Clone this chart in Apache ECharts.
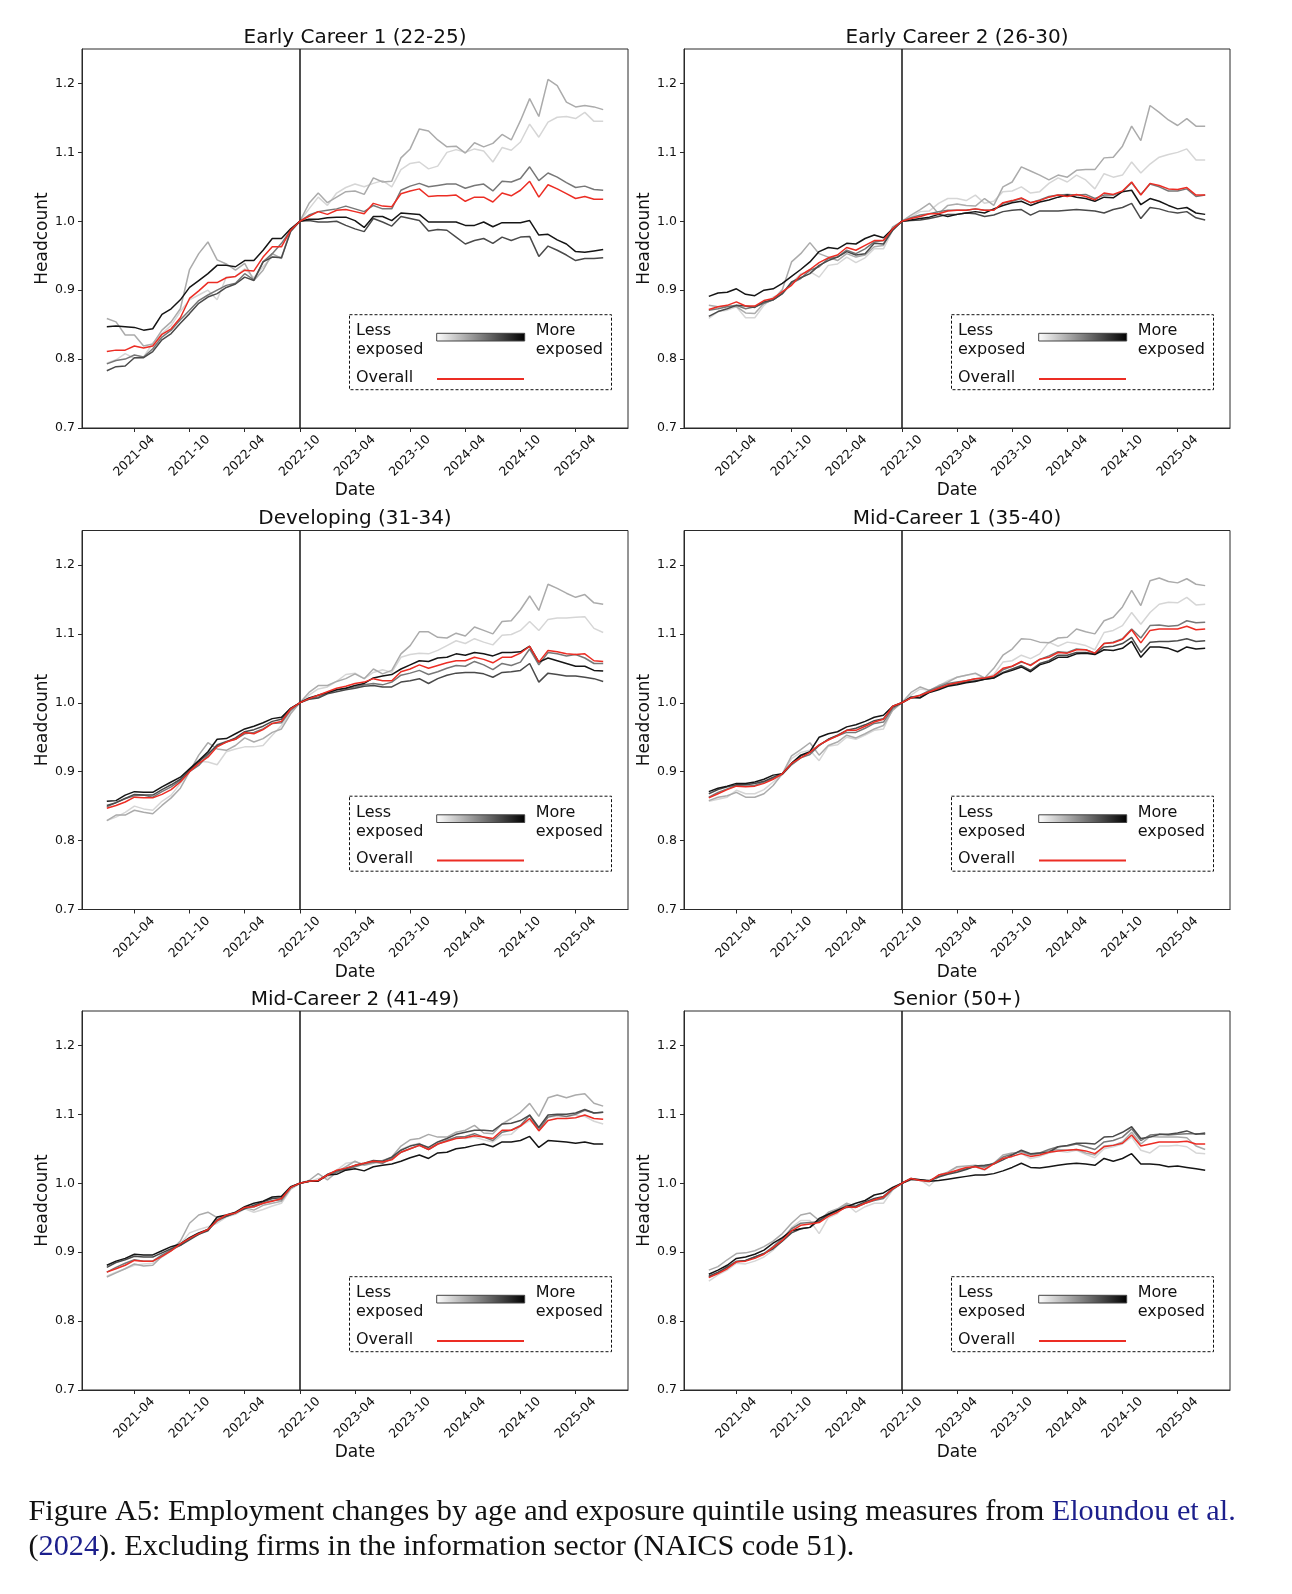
<!DOCTYPE html>
<html><head><meta charset="utf-8">
<script src="https://cdn.jsdelivr.net/npm/echarts@6/dist/echarts.min.js"></script>
<style>html,body{margin:0;padding:0;background:#fff}#c{width:1292px;height:1594px}</style>
</head><body><div id="c"></div>
<script>
// ---------------- DATA ----------------
const months = ['2021-01','2021-02','2021-03','2021-04','2021-05','2021-06','2021-07','2021-08','2021-09','2021-10','2021-11','2021-12',
'2022-01','2022-02','2022-03','2022-04','2022-05','2022-06','2022-07','2022-08','2022-09','2022-10','2022-11','2022-12',
'2023-01','2023-02','2023-03','2023-04','2023-05','2023-06','2023-07','2023-08','2023-09','2023-10','2023-11','2023-12',
'2024-01','2024-02','2024-03','2024-04','2024-05','2024-06','2024-07','2024-08','2024-09','2024-10','2024-11','2024-12',
'2025-01','2025-02','2025-03','2025-04','2025-05','2025-06','2025-07'];
const tickMonths = ['2021-04','2021-10','2022-04','2022-10','2023-04','2023-10','2024-04','2024-10','2025-04'];
const yTicks = [0.7, 0.8, 0.9, 1.0, 1.1, 1.2];
const eventMonth = '2022-10';
const panelTitles = ['Early Career 1 (22-25)','Early Career 2 (26-30)','Developing (31-34)','Mid-Career 1 (35-40)','Mid-Career 2 (41-49)','Senior (50+)'];

// Early Career 1 (22-25)
const p1_q1 = [.794,.799,.808,.801,.803,.823,.837,.849,.869,.886,.893,.900,.886,.919,.920,.931,.918,.934,.949,.948,.985,1.000,1.018,1.035,1.023,1.041,1.049,1.054,1.050,1.055,1.059,1.050,1.075,1.084,1.086,1.076,1.080,1.100,1.104,1.100,1.105,1.102,1.086,1.107,1.103,1.115,1.141,1.122,1.144,1.151,1.152,1.149,1.158,1.145,1.145];
const p1_q2 = [.859,.854,.835,.835,.819,.822,.842,.854,.873,.930,.953,.970,.944,.938,.929,.939,.914,.929,.953,.946,.988,1.000,1.026,1.041,1.027,1.035,1.043,1.044,1.039,1.063,1.057,1.058,1.092,1.105,1.134,1.131,1.118,1.108,1.109,1.099,1.114,1.108,1.113,1.126,1.118,1.146,1.178,1.152,1.206,1.197,1.173,1.166,1.168,1.166,1.162];
const p1_q3 = [.793,.798,.800,.806,.803,.815,.832,.842,.857,.871,.885,.893,.900,.907,.910,.924,.915,.941,.953,.968,.987,1.000,1.009,1.014,1.016,1.018,1.022,1.018,1.014,1.023,1.018,1.018,1.045,1.051,1.055,1.050,1.052,1.054,1.054,1.048,1.052,1.054,1.044,1.058,1.057,1.062,1.079,1.059,1.070,1.064,1.056,1.049,1.051,1.046,1.045];
const p1_q4 = [.783,.789,.790,.802,.802,.811,.828,.837,.852,.866,.881,.890,.895,.904,.909,.919,.914,.941,.948,.947,.985,1.000,1.001,.999,.999,1.000,.994,.989,.985,1.004,.999,.993,1.007,1.004,1.001,.986,.988,.987,.977,.967,.972,.975,.968,.977,.972,.977,.978,.949,.964,.958,.951,.943,.946,.946,.947];
const p1_q5 = [.847,.848,.847,.846,.842,.844,.865,.873,.886,.904,.914,.924,.936,.936,.934,.943,.943,.958,.975,.975,.989,1.000,1.003,1.003,1.005,1.006,1.006,1.001,.991,1.007,1.007,1.001,1.012,1.011,1.010,.999,.999,.999,.999,.994,.994,.999,.992,.998,.998,.998,1.001,.980,.981,.973,.967,.956,.955,.957,.959];
const p1_all = [.811,.813,.813,.819,.816,.819,.836,.844,.860,.888,.899,.911,.911,.918,.920,.929,.928,.948,.963,.963,.987,1.000,1.007,1.014,1.010,1.016,1.017,1.014,1.011,1.026,1.022,1.021,1.040,1.044,1.047,1.036,1.037,1.037,1.038,1.029,1.035,1.035,1.028,1.041,1.037,1.045,1.058,1.035,1.053,1.047,1.040,1.033,1.036,1.032,1.032];

// Early Career 2 (26-30)
const p2_q1 = [.859,.869,.871,.876,.860,.860,.878,.890,.895,.910,.924,.927,.919,.936,.938,.948,.940,.947,.960,.960,.987,1.000,1.006,1.014,1.015,1.026,1.033,1.033,1.030,1.038,1.026,1.029,1.043,1.044,1.050,1.041,1.043,1.055,1.063,1.057,1.067,1.060,1.047,1.069,1.064,1.067,1.086,1.070,1.083,1.093,1.097,1.100,1.105,1.089,1.089];
const p2_q2 = [.878,.876,.877,.876,.867,.866,.881,.886,.901,.941,.953,.969,.953,.948,.943,.953,.948,.951,.963,.965,.992,1.000,1.009,1.017,1.026,1.011,1.023,1.025,1.023,1.022,1.033,1.023,1.050,1.057,1.079,1.073,1.067,1.060,1.067,1.064,1.074,1.075,1.075,1.092,1.093,1.109,1.138,1.117,1.168,1.158,1.147,1.139,1.149,1.138,1.138];
const p2_q3 = [.871,.873,.876,.878,.873,.876,.881,.886,.895,.910,.917,.929,.934,.946,.948,.958,.953,.960,.970,.972,.987,1.000,1.005,1.009,1.011,1.014,1.016,1.016,1.016,1.018,1.016,1.016,1.026,1.029,1.033,1.027,1.031,1.036,1.038,1.039,1.038,1.039,1.033,1.038,1.038,1.043,1.056,1.039,1.054,1.050,1.044,1.044,1.047,1.036,1.038];
const p2_q4 = [.862,.869,.873,.878,.877,.875,.883,.886,.895,.912,.918,.924,.936,.943,.948,.956,.951,.953,.968,.967,.987,1.000,1.001,1.002,1.004,1.007,1.010,1.010,1.012,1.011,1.007,1.009,1.014,1.016,1.017,1.009,1.015,1.015,1.015,1.016,1.017,1.016,1.015,1.012,1.017,1.020,1.026,1.004,1.020,1.018,1.014,1.012,1.014,1.005,1.002];
const p2_q5 = [.891,.896,.897,.902,.894,.892,.900,.902,.910,.920,.930,.941,.956,.962,.960,.968,.967,.975,.980,.976,.989,1.000,1.002,1.004,1.006,1.010,1.007,1.010,1.012,1.014,1.012,1.018,1.023,1.027,1.029,1.023,1.028,1.031,1.035,1.038,1.035,1.033,1.029,1.035,1.034,1.043,1.045,1.024,1.033,1.029,1.023,1.018,1.020,1.012,1.010];
const p2_all = [.872,.876,.878,.883,.877,.877,.885,.888,.898,.907,.922,.930,.940,.947,.951,.962,.958,.965,.972,.972,.989,1.000,1.004,1.007,1.011,1.011,1.015,1.016,1.016,1.018,1.016,1.016,1.027,1.030,1.034,1.027,1.030,1.035,1.038,1.036,1.039,1.036,1.031,1.041,1.039,1.044,1.057,1.038,1.055,1.052,1.047,1.046,1.049,1.038,1.038];

// Developing (31-34)
const p3_q1 = [.829,.834,.841,.850,.846,.844,.857,.866,.883,.900,.915,.914,.910,.929,.933,.936,.936,.938,.953,.967,.986,1.000,1.011,1.020,1.023,1.031,1.041,1.043,1.035,1.044,1.048,1.044,1.066,1.070,1.072,1.071,1.076,1.083,1.090,1.086,1.093,1.088,1.084,1.098,1.099,1.105,1.118,1.105,1.121,1.123,1.123,1.124,1.125,1.108,1.102];
const p3_q2 = [.829,.837,.837,.844,.841,.839,.851,.862,.876,.900,.924,.942,.933,.931,.938,.949,.943,.948,.957,.962,.984,1.000,1.015,1.025,1.025,1.031,1.035,1.042,1.035,1.049,1.042,1.047,1.071,1.083,1.103,1.103,1.095,1.094,1.101,1.097,1.110,1.105,1.100,1.118,1.119,1.135,1.155,1.134,1.172,1.166,1.159,1.153,1.157,1.145,1.143];
const p3_q3 = [.849,.855,.861,.865,.866,.863,.871,.878,.887,.900,.909,.924,.939,.944,.947,.955,.957,.962,.970,.971,.989,1.000,1.006,1.008,1.014,1.019,1.021,1.023,1.026,1.028,1.026,1.030,1.040,1.043,1.047,1.041,1.045,1.050,1.054,1.053,1.060,1.055,1.048,1.057,1.054,1.059,1.078,1.055,1.073,1.071,1.068,1.070,1.065,1.057,1.057];
const p3_q4 = [.851,.855,.861,.867,.866,.866,.874,.881,.889,.902,.914,.926,.938,.943,.949,.958,.961,.966,.973,.976,.992,1.000,1.005,1.007,1.013,1.016,1.019,1.021,1.024,1.025,1.023,1.023,1.030,1.032,1.035,1.028,1.035,1.040,1.043,1.044,1.044,1.042,1.037,1.044,1.045,1.047,1.057,1.030,1.043,1.041,1.039,1.039,1.037,1.035,1.031];
const p3_q5 = [.857,.858,.866,.871,.870,.870,.878,.885,.892,.904,.916,.929,.947,.948,.955,.962,.966,.971,.977,.979,.992,1.000,1.007,1.011,1.015,1.019,1.021,1.025,1.028,1.036,1.039,1.041,1.049,1.055,1.061,1.060,1.065,1.066,1.071,1.069,1.073,1.071,1.068,1.073,1.073,1.074,1.082,1.059,1.065,1.061,1.057,1.053,1.053,1.047,1.046];
const p3_all = [.847,.851,.856,.863,.862,.862,.867,.874,.885,.900,.912,.921,.936,.943,.947,.957,.955,.961,.970,.973,.991,1.000,1.006,1.011,1.016,1.021,1.024,1.028,1.030,1.035,1.032,1.032,1.045,1.049,1.055,1.050,1.054,1.058,1.061,1.061,1.066,1.063,1.058,1.066,1.066,1.072,1.082,1.059,1.076,1.074,1.071,1.070,1.071,1.061,1.060];

// Mid-Career 1 (35-40)
const p4_q1 = [.857,.860,.863,.873,.868,.868,.874,.885,.896,.919,.928,.931,.916,.937,.939,.950,.947,.953,.960,.962,.991,1.000,1.011,1.020,1.018,1.024,1.032,1.037,1.040,1.042,1.036,1.041,1.059,1.061,1.069,1.064,1.071,1.088,1.082,1.088,1.086,1.083,1.077,1.102,1.105,1.112,1.131,1.114,1.131,1.143,1.146,1.145,1.153,1.142,1.143];
const p4_q2 = [.858,.863,.865,.870,.863,.863,.868,.880,.897,.923,.932,.942,.924,.938,.943,.953,.949,.955,.962,.967,.989,1.000,1.015,1.023,1.018,1.025,1.030,1.037,1.040,1.043,1.036,1.050,1.069,1.078,1.093,1.092,1.088,1.087,1.094,1.095,1.107,1.103,1.100,1.119,1.124,1.139,1.163,1.141,1.177,1.181,1.176,1.174,1.180,1.172,1.170];
const p4_q3 = [.863,.870,.875,.880,.879,.880,.885,.890,.896,.910,.920,.925,.938,.947,.952,.957,.957,.963,.970,.972,.992,1.000,1.008,1.011,1.018,1.023,1.028,1.030,1.032,1.035,1.036,1.037,1.048,1.053,1.059,1.055,1.063,1.068,1.074,1.073,1.078,1.077,1.072,1.086,1.088,1.093,1.107,1.094,1.112,1.113,1.111,1.112,1.119,1.116,1.117];
const p4_q4 = [.868,.874,.878,.881,.881,.883,.886,.892,.897,.912,.923,.928,.938,.947,.953,.960,.963,.968,.974,.977,.994,1.000,1.007,1.008,1.016,1.020,1.025,1.028,1.030,1.032,1.034,1.036,1.044,1.049,1.054,1.047,1.057,1.061,1.069,1.069,1.073,1.073,1.071,1.081,1.082,1.086,1.095,1.073,1.088,1.089,1.089,1.090,1.093,1.089,1.090];
const p4_q5 = [.871,.876,.879,.883,.883,.885,.889,.895,.897,.912,.924,.929,.950,.955,.958,.965,.968,.973,.979,.982,.995,1.000,1.008,1.007,1.015,1.019,1.024,1.026,1.029,1.031,1.034,1.036,1.043,1.047,1.052,1.045,1.055,1.059,1.066,1.066,1.071,1.072,1.070,1.077,1.076,1.079,1.089,1.066,1.081,1.081,1.079,1.074,1.081,1.078,1.079];
const p4_all = [.862,.868,.874,.879,.878,.879,.883,.889,.897,.912,.920,.928,.939,.946,.952,.960,.960,.966,.972,.976,.995,1.000,1.007,1.011,1.016,1.021,1.026,1.029,1.032,1.035,1.036,1.039,1.050,1.053,1.060,1.054,1.063,1.066,1.073,1.072,1.077,1.077,1.072,1.086,1.087,1.092,1.106,1.087,1.105,1.107,1.107,1.107,1.111,1.106,1.107];

// Mid-Career 2 (41-49)
const p5_q1 = [.865,.871,.876,.881,.883,.884,.893,.902,.912,.928,.933,.937,.942,.951,.955,.963,.958,.962,.967,.971,.991,1.000,1.002,1.007,1.009,1.019,1.029,1.031,1.028,1.031,1.033,1.036,1.049,1.055,1.058,1.049,1.057,1.063,1.067,1.065,1.067,1.063,1.060,1.070,1.071,1.083,1.091,1.079,1.096,1.097,1.097,1.099,1.097,1.090,1.086];
const p5_q2 = [.864,.870,.876,.883,.880,.881,.894,.903,.916,.942,.954,.958,.950,.952,.956,.965,.961,.968,.971,.974,.992,1.000,1.004,1.014,1.005,1.016,1.024,1.032,1.026,1.029,1.033,1.038,1.054,1.063,1.065,1.071,1.067,1.067,1.074,1.077,1.084,1.073,1.072,1.086,1.094,1.103,1.116,1.097,1.124,1.128,1.124,1.128,1.130,1.116,1.112];
const p5_q3 = [.871,.878,.884,.889,.887,.887,.896,.903,.910,.920,.926,.933,.945,.952,.957,.965,.966,.971,.975,.976,.994,1.000,1.003,1.004,1.012,1.016,1.020,1.024,1.028,1.031,1.029,1.036,1.045,1.050,1.055,1.049,1.057,1.062,1.067,1.068,1.072,1.067,1.062,1.074,1.077,1.084,1.099,1.077,1.096,1.099,1.097,1.100,1.106,1.102,1.103];
const p5_q4 = [.878,.885,.889,.894,.893,.893,.899,.905,.910,.918,.926,.931,.947,.952,.957,.963,.968,.973,.978,.979,.994,1.000,1.003,1.004,1.013,1.018,1.021,1.026,1.029,1.033,1.032,1.038,1.048,1.054,1.057,1.052,1.060,1.065,1.071,1.074,1.077,1.077,1.076,1.086,1.087,1.091,1.099,1.081,1.099,1.100,1.100,1.102,1.107,1.102,1.103];
const p5_q5 = [.881,.887,.891,.897,.896,.896,.902,.908,.912,.921,.928,.933,.951,.954,.958,.966,.971,.974,.980,.981,.995,1.000,1.003,1.003,1.012,1.013,1.019,1.021,1.018,1.024,1.026,1.028,1.032,1.037,1.041,1.036,1.044,1.045,1.050,1.052,1.055,1.057,1.053,1.060,1.060,1.062,1.068,1.052,1.062,1.061,1.060,1.058,1.060,1.057,1.057];
const p5_all = [.871,.876,.881,.888,.887,.887,.894,.902,.912,.920,.927,.933,.946,.954,.957,.965,.966,.971,.974,.978,.994,1.000,1.003,1.004,1.012,1.019,1.022,1.026,1.029,1.032,1.031,1.034,1.045,1.050,1.055,1.049,1.057,1.061,1.065,1.066,1.069,1.067,1.065,1.077,1.077,1.083,1.094,1.076,1.091,1.094,1.094,1.095,1.099,1.094,1.093];

// Senior (50+)
const p6_q1 = [.858,.867,.874,.884,.883,.887,.893,.903,.917,.936,.946,.946,.927,.950,.956,.970,.958,.966,.971,.971,.990,1.000,1.005,1.005,.996,1.009,1.016,1.023,1.021,1.024,1.019,1.029,1.036,1.039,1.043,1.036,1.039,1.044,1.047,1.045,1.048,1.042,1.037,1.050,1.053,1.057,1.067,1.048,1.044,1.054,1.054,1.055,1.053,1.044,1.043];
const p6_q2 = [.874,.879,.889,.898,.899,.902,.908,.916,.927,.942,.954,.957,.946,.958,.963,.971,.966,.971,.976,.979,.992,1.000,1.007,1.004,1.002,1.012,1.016,1.024,1.025,1.026,1.023,1.029,1.041,1.044,1.045,1.041,1.043,1.047,1.049,1.048,1.049,1.044,1.041,1.054,1.055,1.060,1.074,1.057,1.068,1.067,1.067,1.067,1.066,1.054,1.049];
const p6_q3 = [.864,.870,.879,.887,.888,.893,.898,.908,.920,.934,.942,.943,.944,.955,.961,.968,.965,.971,.975,.978,.991,1.000,1.005,1.005,1.003,1.010,1.014,1.018,1.021,1.025,1.024,1.029,1.038,1.042,1.047,1.042,1.044,1.049,1.053,1.054,1.057,1.053,1.049,1.060,1.062,1.067,1.079,1.062,1.070,1.071,1.070,1.071,1.072,1.072,1.071];
const p6_q4 = [.865,.871,.878,.886,.888,.893,.898,.905,.916,.928,.934,.936,.946,.954,.960,.965,.967,.973,.978,.981,.992,1.000,1.007,1.005,1.004,1.009,1.013,1.016,1.020,1.025,1.026,1.028,1.034,1.041,1.048,1.043,1.044,1.045,1.053,1.055,1.058,1.058,1.057,1.067,1.068,1.074,1.082,1.065,1.067,1.071,1.071,1.073,1.076,1.071,1.073];
const p6_q5 = [.868,.874,.881,.891,.893,.897,.903,.913,.921,.931,.934,.936,.949,.955,.961,.966,.971,.975,.983,.986,.994,1.000,1.006,1.005,1.003,1.004,1.006,1.008,1.010,1.012,1.012,1.014,1.018,1.023,1.029,1.023,1.022,1.024,1.026,1.028,1.029,1.028,1.026,1.036,1.032,1.036,1.043,1.028,1.028,1.027,1.024,1.025,1.023,1.021,1.019];
const p6_all = [.863,.869,.876,.886,.887,.891,.897,.907,.917,.931,.939,.941,.943,.952,.958,.966,.965,.971,.976,.980,.992,1.000,1.007,1.004,1.003,1.012,1.015,1.019,1.023,1.024,1.020,1.028,1.036,1.039,1.043,1.039,1.041,1.045,1.047,1.048,1.049,1.047,1.043,1.053,1.055,1.058,1.070,1.054,1.057,1.060,1.060,1.060,1.061,1.057,1.057];

const panelQuintiles = [
  [p1_q1,p1_q2,p1_q3,p1_q4,p1_q5],
  [p2_q1,p2_q2,p2_q3,p2_q4,p2_q5],
  [p3_q1,p3_q2,p3_q3,p3_q4,p3_q5],
  [p4_q1,p4_q2,p4_q3,p4_q4,p4_q5],
  [p5_q1,p5_q2,p5_q3,p5_q4,p5_q5],
  [p6_q1,p6_q2,p6_q3,p6_q4,p6_q5]
];
const panelOverall = [p1_all,p2_all,p3_all,p4_all,p5_all,p6_all];

// ---------------- LAYOUT / STYLE ----------------
const FONT = 'DejaVu Sans';
const quintileColors = ['#d6d6d6','#ababab','#777777','#4a4a4a','#151515'];
const overallColor = '#ec2d24';
const colLeft = [82, 684];
const rowTop = [49, 530.5, 1011];
const GW = 546, GH = 379;

const chart = echarts.init(document.getElementById('c'), null, {renderer:'canvas'});
const grids = [], xAxes = [], yAxes = [], series = [], graphic = [];
const tickIdx = tickMonths.map(m => months.indexOf(m));
const eventIdx = months.indexOf(eventMonth);

for (let k = 0; k < 6; k++) {
  const L = colLeft[k % 2], T = rowTop[Math.floor(k / 2)];
  grids.push({left: L, top: T, width: GW, height: GH, show: true, borderColor: '#2a2a2a', borderWidth: 1, backgroundColor: 'transparent'});
  xAxes.push({
    type: 'value', gridIndex: k, min: -2.7, max: 56.7,
    name: 'Date', nameLocation: 'middle', nameGap: 52,
    nameTextStyle: {fontFamily: FONT, fontSize: 17, color: '#111'},
    axisLine: {show: true, onZero: false, lineStyle: {color: '#2a2a2a', width: 1}},
    axisTick: {show: true, length: 4, lineStyle: {color: '#2a2a2a'}, customValues: tickIdx},
    axisLabel: {customValues: tickIdx, formatter: v => months[Math.round(v)] || '', rotate: 45, align: 'center', verticalAlign: 'middle',
      margin: 28, fontFamily: FONT, fontSize: 12.5, color: '#111'},
    splitLine: {show: false}
  });
  yAxes.push({
    type: 'value', gridIndex: k, min: 0.7, max: 1.25, interval: 0.1,
    name: 'Headcount', nameLocation: 'middle', nameGap: 30, nameRotate: 90,
    nameTextStyle: {fontFamily: FONT, fontSize: 17, color: '#111'},
    axisLine: {show: true, onZero: false, lineStyle: {color: '#2a2a2a', width: 1}},
    axisTick: {show: true, length: 4, lineStyle: {color: '#2a2a2a'}, customValues: yTicks},
    axisLabel: {customValues: yTicks, formatter: v => v.toFixed(1), margin: 7, fontFamily: FONT, fontSize: 12.5, color: '#111'},
    splitLine: {show: false}
  });
  panelQuintiles[k].forEach((arr, q) => {
    const s = {
      type: 'line', xAxisIndex: k, yAxisIndex: k, data: arr.map((v, i) => [i, v]),
      showSymbol: false, symbol: 'none', silent: true, z: 2 + q,
      lineStyle: {color: quintileColors[q], width: 1.5}
    };
    if (q === 0) {
      s.markLine = {silent: true, symbol: ['none','none'], label: {show: false}, animation: false,
        lineStyle: {color: '#222', width: 1.6, type: 'solid'}, data: [{xAxis: eventIdx}]};
    }
    series.push(s);
  });
  series.push({
    type: 'line', xAxisIndex: k, yAxisIndex: k, data: panelOverall[k].map((v, i) => [i, v]),
    showSymbol: false, symbol: 'none', silent: true, z: 8,
    lineStyle: {color: overallColor, width: 1.5}
  });

  // title
  graphic.push({type: 'text', x: L + GW / 2, y: T - 11.5, z: 20,
    style: {text: panelTitles[k], font: `20px "${FONT}"`, fill: '#111', align: 'center', verticalAlign: 'middle'}});

  // legend box
  const bx = L + 267.5, by = T + 265.7;
  graphic.push({type: 'rect', z: 20, shape: {x: bx, y: by, width: 262, height: 75},
    style: {fill: '#fff', stroke: '#111', lineWidth: 1, lineDash: [3, 2]}});
  const lf = `16px "${FONT}"`;
  graphic.push({type: 'text', z: 21, x: L + 274, y: T + 282, style: {text: 'Less', font: lf, fill: '#111', verticalAlign: 'middle'}});
  graphic.push({type: 'text', z: 21, x: L + 274, y: T + 301, style: {text: 'exposed', font: lf, fill: '#111', verticalAlign: 'middle'}});
  graphic.push({type: 'text', z: 21, x: L + 453.7, y: T + 282, style: {text: 'More', font: lf, fill: '#111', verticalAlign: 'middle'}});
  graphic.push({type: 'text', z: 21, x: L + 453.7, y: T + 301, style: {text: 'exposed', font: lf, fill: '#111', verticalAlign: 'middle'}});
  graphic.push({type: 'text', z: 21, x: L + 274, y: T + 328.5, style: {text: 'Overall', font: lf, fill: '#111', verticalAlign: 'middle'}});
  graphic.push({type: 'rect', z: 21, shape: {x: L + 354.7, y: T + 284.3, width: 88, height: 7.7},
    style: {stroke: '#444', lineWidth: 1,
      fill: new echarts.graphic.LinearGradient(0, 0, 1, 0, [{offset: 0, color: '#ffffff'}, {offset: 1, color: '#000000'}])}});
  graphic.push({type: 'line', z: 21, shape: {x1: L + 355, y1: T + 330, x2: L + 442, y2: T + 330},
    style: {stroke: overallColor, lineWidth: 2}});
}

// caption
const capFont = 'Liberation Serif';
const cap1a = 'Figure A5: Employment changes by age and exposure quintile using measures from ';
const cap1b = 'Eloundou et al.';
const cap2a = '(';
const cap2b = '2024';
const cap2c = '). Excluding firms in the information sector (NAICS code 51).';
const ctx = document.createElement('canvas').getContext('2d');
ctx.font = `100px "${capFont}"`;
const w100 = ctx.measureText(cap1a + cap1b).width;
const capSize = 100 * 1208 / w100;
const blue = '#1c1f8c';
graphic.push({type: 'text', z: 30, x: 28.5, y: 1512, style: {
  text: `{n|${cap1a}}{b|${cap1b}}`, verticalAlign: 'middle',
  rich: {n: {fontFamily: capFont, fontSize: capSize, fill: '#111'}, b: {fontFamily: capFont, fontSize: capSize, fill: blue}}}});
graphic.push({type: 'text', z: 30, x: 28.5, y: 1547.5, style: {
  text: `{n|${cap2a}}{b|${cap2b}}{n|${cap2c}}`, verticalAlign: 'middle',
  rich: {n: {fontFamily: capFont, fontSize: capSize, fill: '#111'}, b: {fontFamily: capFont, fontSize: capSize, fill: blue}}}});

chart.setOption({
  animation: false,
  backgroundColor: '#ffffff',
  grid: grids, xAxis: xAxes, yAxis: yAxes, series: series, graphic: graphic
});
</script></body></html>
